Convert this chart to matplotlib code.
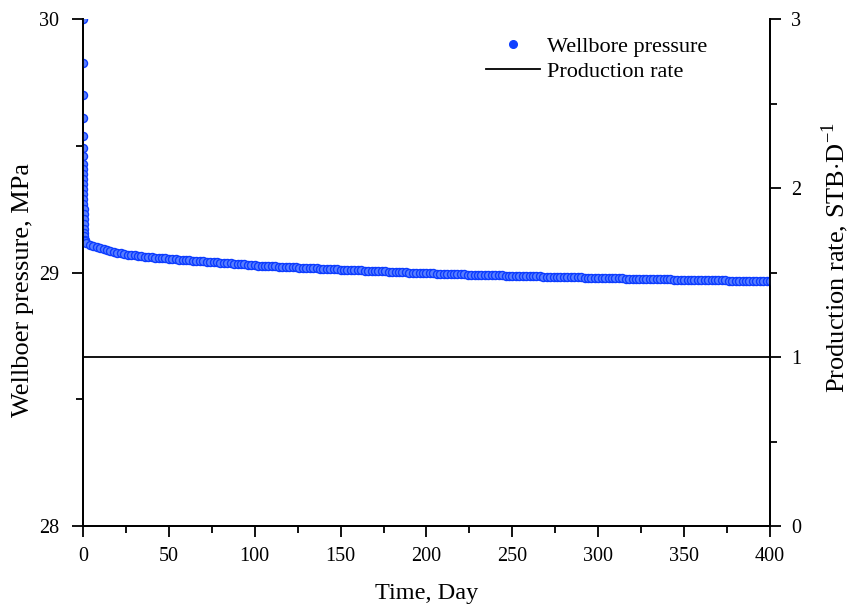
import matplotlib.pyplot as plt
from matplotlib.ticker import MultipleLocator
from matplotlib.lines import Line2D

plt.rcParams['font.family'] = ['Liberation Serif', 'DejaVu Serif']
plt.rcParams['mathtext.fontset'] = 'custom'
plt.rcParams['mathtext.rm'] = 'Liberation Serif'

# early-time points (fast drawdown near t = 0)
t_early = [0.0, 0.01, 0.02, 0.03, 0.04, 0.05, 0.06, 0.07, 0.08, 0.09,
           0.10, 0.12, 0.14, 0.17, 0.20, 0.25, 0.30, 0.35, 0.40, 0.50,
           0.60, 0.70, 0.80, 1.00, 1.30]
p_early = [30.000, 29.826, 29.700, 29.610, 29.540, 29.490, 29.460, 29.430, 29.410, 29.390,
           29.370, 29.350, 29.330, 29.310, 29.290, 29.270, 29.250, 29.230, 29.210, 29.190,
           29.170, 29.155, 29.145, 29.130, 29.125]

# later points, every 2 days from day 2 to day 400
t_late = list(range(2, 401, 2))
p_late = [
    29.118, 29.110, 29.104, 29.099, 29.095, 29.091, 29.087, 29.083, 29.080, 29.077,
    29.075, 29.073, 29.071, 29.069, 29.068, 29.066, 29.065, 29.063, 29.062, 29.061,
    29.059, 29.058, 29.057, 29.056, 29.055, 29.054, 29.052, 29.051, 29.050, 29.049,
    29.048, 29.047, 29.046, 29.045, 29.044, 29.043, 29.042, 29.041, 29.040, 29.039,
    29.038, 29.037, 29.036, 29.035, 29.034, 29.033, 29.032, 29.030, 29.029, 29.028,
    29.027, 29.026, 29.026, 29.025, 29.024, 29.024, 29.023, 29.022, 29.022, 29.021,
    29.020, 29.020, 29.019, 29.018, 29.018, 29.017, 29.016, 29.016, 29.015, 29.014,
    29.014, 29.013, 29.013, 29.012, 29.011, 29.011, 29.010, 29.010, 29.009, 29.008,
    29.008, 29.007, 29.007, 29.006, 29.006, 29.005, 29.005, 29.004, 29.003, 29.003,
    29.002, 29.002, 29.001, 29.001, 29.000, 29.000, 28.999, 28.999, 28.998, 28.998,
    28.997, 28.997, 28.996, 28.996, 28.995, 28.995, 28.995, 28.994, 28.994, 28.993,
    28.993, 28.992, 28.992, 28.992, 28.991, 28.991, 28.990, 28.990, 28.990, 28.989,
    28.989, 28.989, 28.988, 28.988, 28.987, 28.987, 28.987, 28.986, 28.986, 28.986,
    28.985, 28.985, 28.985, 28.984, 28.984, 28.984, 28.983, 28.983, 28.983, 28.982,
    28.982, 28.982, 28.981, 28.981, 28.981, 28.980, 28.980, 28.980, 28.979, 28.979,
    28.979, 28.978, 28.978, 28.978, 28.977, 28.977, 28.977, 28.976, 28.976, 28.976,
    28.975, 28.975, 28.975, 28.975, 28.974, 28.974, 28.974, 28.973, 28.973, 28.973,
    28.973, 28.972, 28.972, 28.972, 28.972, 28.971, 28.971, 28.971, 28.971, 28.970,
    28.970, 28.970, 28.970, 28.969, 28.969, 28.969, 28.969, 28.968, 28.968, 28.968,
    28.968, 28.967, 28.967, 28.967, 28.967, 28.966, 28.966, 28.966, 28.966, 28.966,
]

time = t_early + t_late
pressure = p_early + p_late

rate_t = [0, 400]
rate_q = [1, 1]

fig = plt.figure(figsize=(8.53, 6.07), dpi=100)
ax = fig.add_axes([0.0973, 0.1334, 0.8054, 0.8353])
ax2 = ax.twinx()

ax.plot(time, pressure, linestyle='none', marker='o', markersize=5.8,
        markerfacecolor='#5a80ff', markeredgecolor='#0c3cff', markeredgewidth=1.0,
        zorder=3)
ax2.plot(rate_t, rate_q, color='black', linewidth=1.3)

ax.set_xlim(0, 400)
ax.set_ylim(28, 30)
ax2.set_ylim(0, 3)

ax.xaxis.set_major_locator(MultipleLocator(50))
ax.xaxis.set_minor_locator(MultipleLocator(25))
ax.yaxis.set_major_locator(MultipleLocator(1))
ax.yaxis.set_minor_locator(MultipleLocator(0.5))
ax2.yaxis.set_major_locator(MultipleLocator(1))
ax2.yaxis.set_minor_locator(MultipleLocator(0.5))

for a in (ax, ax2):
    a.tick_params(which='major', direction='out', length=8, width=1.3, labelsize=14.5)
    a.tick_params(which='minor', direction='out', length=5, width=1.3)
    for s in a.spines.values():
        s.set_linewidth(1.3)
ax.spines['top'].set_visible(False)
ax2.spines['top'].set_visible(False)
ax.tick_params(axis='x', pad=7)
ax.tick_params(axis='y', pad=9)
ax2.tick_params(axis='y', pad=7)

ax.set_xlabel('Time, Day', fontsize=17.5, labelpad=12)
fig.text(23 / 853, 1 - 290 / 607, 'Wellboer pressure, MPa', fontsize=19,
         rotation=90, ha='center', va='center', rotation_mode='anchor')
fig.text(835 / 853, 1 - 258 / 607, r'Production rate, STB$\cdot$D$^{-1}$', fontsize=19,
         rotation=90, ha='center', va='center', rotation_mode='anchor')

handles = [
    Line2D([], [], linestyle='none', marker='o', markersize=5.5,
           markerfacecolor='#1040ff', markeredgecolor='#1040ff'),
    Line2D([], [], color='black', linewidth=1.3),
]
ax.legend(handles, ['Wellbore pressure', 'Production rate'], loc='upper left',
          bbox_to_anchor=(0.558, 1.005), frameon=False, fontsize=16,
          handlelength=2.4, handletextpad=0.35, labelspacing=0.2)

fig.savefig('out.png', dpi=100)
